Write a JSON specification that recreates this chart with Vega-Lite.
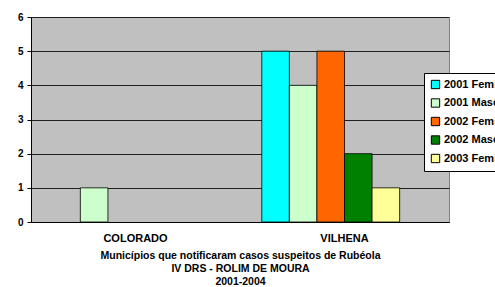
{
  "$schema": "https://vega.github.io/schema/vega-lite/v6.json",
  "autosize": "none",
  "width": 418,
  "height": 205,
  "padding": {"left": 31, "top": 17, "right": 46, "bottom": 65},
  "background": "white",
  "config": {
    "view": {"fill": "#C0C0C0", "stroke": "#808080", "strokeWidth": 1},
    "font": "Liberation Sans"
  },
  "data": {
    "values": [
      {"municipio": "COLORADO", "serie": "2001 Masculino", "casos": 1},
      {"municipio": "VILHENA", "serie": "2001 Feminino", "casos": 5},
      {"municipio": "VILHENA", "serie": "2001 Masculino", "casos": 4},
      {"municipio": "VILHENA", "serie": "2002 Feminino", "casos": 5},
      {"municipio": "VILHENA", "serie": "2002 Masculino", "casos": 2},
      {"municipio": "VILHENA", "serie": "2003 Feminino", "casos": 1}
    ]
  },
  "mark": {"type": "bar", "stroke": "black", "strokeWidth": 0.8},
  "encoding": {
    "x": {
      "field": "municipio",
      "type": "nominal",
      "scale": {"paddingInner": 0, "paddingOuter": 0},
      "axis": {
        "title": ["Municípios que notificaram casos suspeitos de Rubéola", "IV DRS - ROLIM DE MOURA", "2001-2004"],
        "titleFont": "Liberation Sans",
        "titleFontSize": 10.5,
        "titleFontWeight": "bold",
        "titleLineHeight": 13,
        "titlePadding": 7,
        "titleColor": "black",
        "labelAngle": 0,
        "labelFontSize": 11,
        "labelFontWeight": "bold",
        "labelColor": "black",
        "labelPadding": 10,
        "ticks": false,
        "domainColor": "black",
        "domainWidth": 1
      }
    },
    "xOffset": {
      "field": "serie",
      "type": "nominal",
      "scale": {
        "domain": ["2001 Feminino", "2001 Masculino", "2002 Feminino", "2002 Masculino", "2003 Feminino", "2003 Masculino"],
        "paddingInner": 0,
        "paddingOuter": 0.79
      }
    },
    "y": {
      "field": "casos",
      "type": "quantitative",
      "scale": {"domain": [0, 6], "nice": false},
      "axis": {
        "title": null,
        "values": [0, 1, 2, 3, 4, 5, 6],
        "grid": true,
        "gridColor": "#202020",
        "gridWidth": 1,
        "gridOpacity": 1,
        "domainColor": "black",
        "tickColor": "black",
        "tickSize": 4,
        "labelFontSize": 10,
        "labelFontWeight": "bold",
        "labelColor": "black",
        "labelPadding": 4
      }
    },
    "color": {
      "field": "serie",
      "type": "nominal",
      "scale": {
        "domain": ["2001 Feminino", "2001 Masculino", "2002 Feminino", "2002 Masculino", "2003 Feminino"],
        "range": ["#00FFFF", "#CCFFCC", "#FF6600", "#008000", "#FFFF99"]
      },
      "legend": {
        "title": null,
        "orient": "none",
        "legendX": 393,
        "legendY": 56,
        "fillColor": "white",
        "strokeColor": "black",
        "padding": 6,
        "symbolType": "square",
        "symbolSize": 70,
        "symbolStrokeColor": "black",
        "symbolStrokeWidth": 1,
        "labelFontSize": 11,
        "labelFontWeight": "bold",
        "labelColor": "black",
        "labelLimit": 200,
        "labelOffset": 3,
        "rowPadding": 5.5
      }
    }
  }
}
